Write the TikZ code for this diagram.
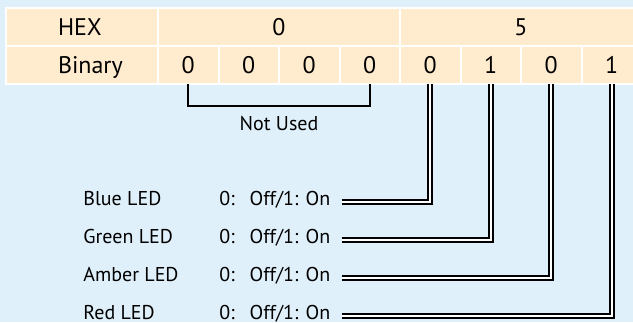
\documentclass[tikz,border=0pt]{standalone}
\usepackage{fontspec}
\setmainfont{PT Sans}
\usetikzlibrary{positioning}
\definecolor{bgblue}{RGB}{223,240,250}
\definecolor{cellfill}{RGB}{255,235,205}

\begin{document}
\begin{tikzpicture}[
    x=1pt, y=1pt,
    cell/.style={
        draw=white,
        line width=1pt,
        fill=cellfill,
        minimum width=30.25pt,
        minimum height=19pt,
        outer sep=0pt,
        inner sep=0pt,
        text height=8.4pt,
        text depth=0pt,
        font=\fontsize{12}{14}\selectfont
    },
    head/.style={cell, minimum width=76pt, text width=24pt, inner xsep=26pt, align=left},
    wide/.style={cell, minimum width=121pt},
    lbl/.style={inner sep=0pt, text height=7pt, text depth=0pt, font=\fontsize{10}{12}\selectfont},
    state/.style={lbl, inner xsep=5.5pt, text depth=3pt},
    pair/.style={draw, double=white, double distance=1pt, line width=1pt},
    bracket/.style={draw, line width=1pt}
]

% Background
\useasboundingbox (0,0) rectangle (316.5,-161);
\fill[bgblue] (0,0) rectangle (316.5,-161);
\clip (0,0) rectangle (316.5,-161);

% Table
\node[head, anchor=north west] (hex) at (3,-4) {HEX};
\node[wide, right=0pt of hex] (hexhi) {0};
\node[wide, right=0pt of hexhi] (hexlo) {5};
\node[head, below=0pt of hex] (bin) {Binary};
\node[cell, right=0pt of bin] (b1) {0};
\foreach \v [count=\i from 2, remember=\i as \j (initially 1)] in {0,0,0,0,1,0,1}
    \node[cell, right=0pt of b\j] (b\i) {\v};

% Unused bits
\coordinate[below=11pt of b1.south] (nu1);
\coordinate[below=11pt of b4.south] (nu4);
\draw[bracket] (b1.south) -- (nu1) -- (nu4) -- (b4.south);
\path (nu1) -- node[lbl, below=5pt] (notused) {Not Used} (nu4);

% LED bits
\foreach \name/\bit [count=\i] in {Blue/5, Green/6, Amber/7, Red/8} {
    \pgfmathsetmacro\yy{-83.85-19*\i}
    \node[lbl, anchor=base west] (led\i) at (41.5,\yy) {\name\ LED};
    \node[state, anchor=base west] (st\i) at (104,\yy) {0:\hspace{7.5pt}Off/1: On};
    \draw[pair] (st\i.east) -| (b\bit.south);
}

\end{tikzpicture}
\end{document}
